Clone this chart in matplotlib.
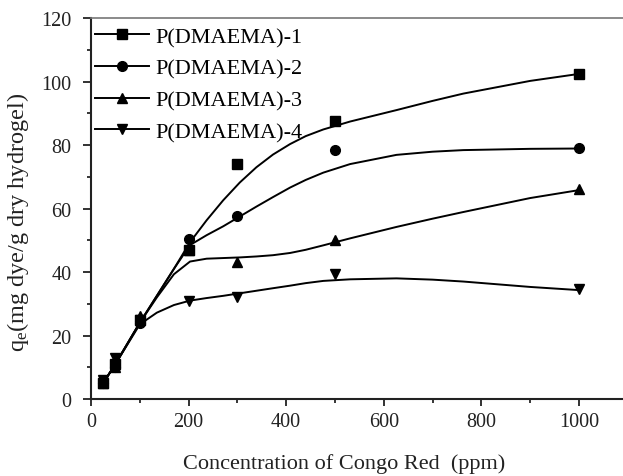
import matplotlib

matplotlib.use("Agg")
import matplotlib.pyplot as plt
from matplotlib.ticker import MultipleLocator

plt.rcParams["font.family"] = ["Liberation Serif", "DejaVu Serif"]
plt.rcParams["mathtext.fontset"] = "custom"
plt.rcParams["mathtext.rm"] = "Liberation Serif"
plt.rcParams["mathtext.it"] = "Liberation Serif:italic"

# measured points
conc = [25, 50, 100, 200, 300, 500, 1000]
q_1 = [5, 11, 25, 47, 74, 87.5, 102.5]
q_2 = [5, 10, 24, 50.5, 57.5, 78.5, 79]
q_3 = [5, 10, 26, 47, 43, 50, 66]
q_4 = [6, 13, 25, 31, 32, 39.5, 34.5]

# fitted curves
fit_x = [25, 50, 100, 135, 170, 203, 237, 271, 305, 339, 373, 408, 440, 476, 531,
         626, 700, 763, 900, 1000]
fit_1 = [5, 11, 24, 32.5, 41, 49.4, 56.3, 62.6, 68.2, 73.0, 77.0, 80.3, 82.8, 84.9,
         87.4, 91.0, 93.9, 96.2, 100.2, 102.4]
fit_2 = [5, 11, 24, 32.5, 41, 48.5, 51.6, 54.4, 57.5, 60.6, 63.6, 66.6, 69.0, 71.3,
         74.0, 76.9, 77.9, 78.4, 78.8, 78.9]
fit_3 = [5, 11, 24, 32, 39.3, 43.3, 44.2, 44.4, 44.6, 44.9, 45.3, 46.0, 47.0, 48.4,
         50.6, 54.2, 56.8, 58.9, 63.3, 65.8]
fit_4 = [5, 11, 23.5, 27.2, 29.6, 31.0, 31.8, 32.5, 33.3, 34.1, 34.9, 35.7, 36.5, 37.2,
         37.7, 38.0, 37.6, 37.0, 35.3, 34.3]

labels = ["P(DMAEMA)-1", "P(DMAEMA)-2", "P(DMAEMA)-3", "P(DMAEMA)-4"]
markers = ["s", "o", "^", "v"]

fig = plt.figure(figsize=(6.23, 4.77), dpi=100)
ax = fig.add_axes([0.146, 0.1614, 0.8617, 0.7987])

series = [(q_1, fit_1), (q_2, fit_2), (q_3, fit_3), (q_4, fit_4)]
for (pts, fit), mk, lab in zip(series, markers, labels):
    ax.plot(fit_x, fit, color="black", lw=1.4, solid_joinstyle="round")
    ax.plot(conc, pts, linestyle="none", marker=mk, color="black", markersize=7)
    # legend proxy: line-marker-line
    ax.plot([], [], color="black", lw=1.4, marker=mk, markersize=7, label=lab)

ax.set_xlim(0, 1100)
ax.set_ylim(0, 120)
ax.xaxis.set_minor_locator(MultipleLocator(100))
ax.yaxis.set_major_locator(MultipleLocator(20))
ax.yaxis.set_minor_locator(MultipleLocator(10))
ax.set_xticks([0, 200, 400, 600, 800, 1000])
ax.tick_params(which="major", direction="out", length=5, width=1.3, labelsize=14.5,
               colors="#222222")
ax.tick_params(which="minor", direction="out", length=3, width=1.1)
ax.tick_params(axis="x", pad=4)
ax.tick_params(axis="y", which="major", length=6, pad=8)

for side in ["left", "bottom"]:
    ax.spines[side].set_linewidth(1.5)
    ax.spines[side].set_color("#222222")
ax.spines["top"].set_linewidth(1.2)
ax.spines["top"].set_color("#777777")

ax.set_xlabel("Concentration of Congo Red  (ppm)", fontsize=16, color="#222222")
ax.xaxis.set_label_coords(0.471, -0.143)
ax.set_ylabel("q$_\\mathrm{e}$(mg dye/g dry hydrogel)", fontsize=17.5, color="#222222")
ax.yaxis.set_label_coords(-0.112, 0.465)

ax.legend(loc="upper left", frameon=False, fontsize=16, handlelength=2.4,
          labelspacing=0.5, handletextpad=0.3, borderaxespad=0.1, borderpad=0.1,
          bbox_to_anchor=(0.0, 0.9895))

fig.savefig("out.png", dpi=100)
plt.close(fig)
